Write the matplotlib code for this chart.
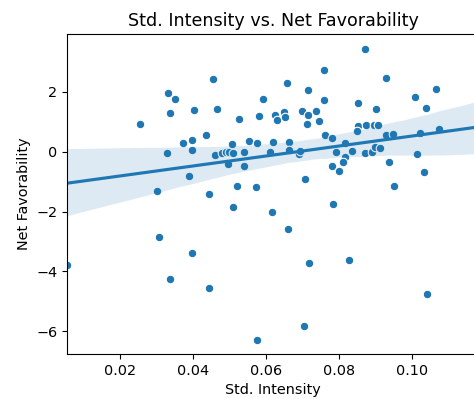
import numpy as np
import pandas as pd
import matplotlib
matplotlib.use("Agg")
import matplotlib.pyplot as plt
import seaborn as sns

# values
std_intensity = [
    0.0455, 0.0333, 0.0350, 0.0593, 0.0338, 0.0404, 0.0466, 0.0526, 0.0580, 0.0256,
    0.0435, 0.0372, 0.0398, 0.0555, 0.0575, 0.0329, 0.0398, 0.0460, 0.0481, 0.0492,
    0.0500, 0.0511, 0.0507, 0.0540, 0.0496, 0.0539, 0.0389, 0.0302, 0.0521, 0.0573,
    0.0444, 0.0509, 0.0612, 0.0871, 0.0761, 0.0658, 0.0929, 0.0717, 0.1066, 0.0761,
    0.1009, 0.0852, 0.1039, 0.0903, 0.0624, 0.0631, 0.0651, 0.0654, 0.0699, 0.0717,
    0.0738, 0.0746, 0.0713, 0.0852, 0.0850, 0.0876, 0.0897, 0.0907, 0.0763, 0.0783,
    0.0929, 0.0948, 0.1023, 0.1075, 0.0620, 0.0665, 0.0665, 0.0691, 0.0695, 0.0816,
    0.0792, 0.0837, 0.0817, 0.0812, 0.0783, 0.0800, 0.0873, 0.0892, 0.0900, 0.0913,
    0.0938, 0.1015, 0.1035, 0.0708, 0.0951, 0.0784, 0.0618, 0.0306, 0.0397, 0.00545,
    0.0336, 0.0443, 0.0577, 0.0661, 0.0719, 0.0827, 0.1042, 0.0705,
]
net_favorability = [
    2.42, 1.95, 1.75, 1.75, 1.28, 1.39, 1.42, 1.10, 1.20, 0.92,
    0.55, 0.30, 0.38, 0.35, 0.30, -0.05, 0.06, -0.12, -0.04, 0.00,
    -0.02, -0.04, 0.25, -0.02, -0.40, -0.47, -0.81, -1.31, -1.16, -1.19,
    -1.42, -1.86, -0.02, 3.43, 2.72, 2.28, 2.45, 2.05, 2.10, 1.73,
    1.81, 1.63, 1.46, 1.42, 1.23, 1.07, 1.32, 1.17, 1.37, 1.22,
    1.37, 1.02, 0.92, 0.85, 0.70, 0.90, 0.90, 0.90, 0.56, 0.44,
    0.54, 0.58, 0.61, 0.75, 0.32, 0.31, 0.07, -0.07, 0.03, 0.30,
    0.00, 0.01, -0.18, -0.36, -0.49, -0.65, -0.03, -0.02, 0.16, 0.11,
    -0.34, -0.08, -0.67, -0.91, -1.14, -1.76, -2.02, -2.86, -3.38, -3.79,
    -4.26, -4.54, -6.29, -2.59, -3.73, -3.61, -4.74, -5.82,
]

df = pd.DataFrame({"Std. Intensity": std_intensity,
                   "Net Favorability": net_favorability})

plt.rcParams["font.size"] = 10.4

fig = plt.figure(figsize=(4.74, 3.99), dpi=100)
ax = fig.add_axes([67 / 474, 45 / 399, 412 / 474, 320 / 399])
ax.set_xlim(0.00545, 0.1185)

sns.regplot(data=df, x="Std. Intensity", y="Net Favorability", ax=ax,
            truncate=False, seed=0, color="#1f77b4",
            scatter_kws={"s": 38, "alpha": 1, "edgecolor": "white", "linewidths": 0.8})

ax.set_xlim(0.00545, 0.1185)
ax.set_ylim(-6.76, 3.93)
ax.set_title("Std. Intensity vs. Net Favorability", fontsize=12.6)

fig.savefig("out.png", dpi=100)
